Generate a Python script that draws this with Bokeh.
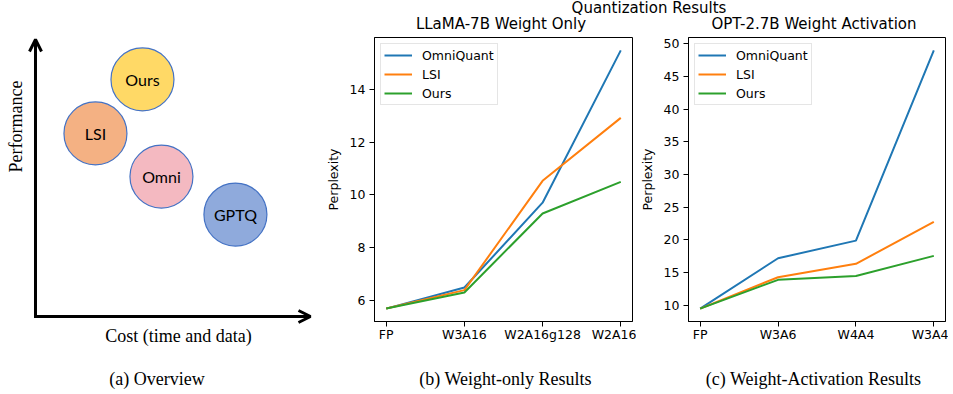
import math
from bokeh.plotting import figure
from bokeh.models import Range1d, FixedTicker, Arrow, OpenHead
from bokeh.layouts import row, column
from bokeh.core.properties import value
from bokeh.embed import file_html
from bokeh.resources import INLINE

# ---------------- data ----------------
# (a) overview diagram: cost (x) vs performance (y), abstract units 0..10
methods = ["Ours", "LSI", "Omni", "GPTQ"]
method_cost = [3.89, 2.18, 4.58, 7.27]
method_perf = [8.56, 6.61, 5.05, 3.68]
method_colors = ["#FFD966", "#F4B183", "#F4B9C1", "#8FAADC"]

# (b) LLaMA-7B weight only
b_cats = ["FP", "W3A16", "W2A16g128", "W2A16"]
b_omni = [5.68, 6.48, 9.70, 15.48]
b_lsi = [5.68, 6.38, 10.53, 12.92]
b_ours = [5.68, 6.29, 9.29, 10.49]
b_yticks = [6, 8, 10, 12, 14]

# (c) OPT-2.7B weight activation
c_cats = ["FP", "W3A6", "W4A4", "W3A4"]
c_omni = [9.5, 17.2, 19.9, 49.0]
c_lsi = [9.5, 14.3, 16.35, 22.75]
c_ours = [9.5, 13.9, 14.5, 17.57]
c_yticks = [10, 15, 20, 25, 30, 35, 40, 45, 50]

series_names = ["OmniQuant", "LSI", "Ours"]
series_colors = ["#1f77b4", "#ff7f0e", "#2ca02c"]

suptitle = "Quantization Results"
panel_titles = ["LLaMA-7B Weight Only", "OPT-2.7B Weight Activation"]
captions = ["(a) Overview", "(b) Weight-only Results", "(c) Weight-Activation Results"]

SANS = "DejaVu Sans"
SERIF = "Liberation Serif"


def blank(width, height, xr, yr):
    p = figure(width=width, height=height, x_range=xr, y_range=yr,
               x_axis_type=None, y_axis_type=None, output_backend="svg",
               toolbar_location=None, min_border=0)
    p.outline_line_color = None
    p.grid.visible = False
    p.background_fill_color = "white"
    p.border_fill_color = "white"
    return p


# ---------------- (a) overview ----------------
pa = blank(322, 360, Range1d(-1.2727, 10.4364), Range1d(-1.5884, 11.408))
pa.add_layout(Arrow(end=OpenHead(size=12, line_width=3, line_color="black"),
                    x_start=0, y_start=-0.05, x_end=0, y_end=10,
                    line_width=3, line_color="black"))
pa.add_layout(Arrow(end=OpenHead(size=12, line_width=3, line_color="black"),
                    x_start=-0.05, y_start=0, x_end=10, y_end=0,
                    line_width=3, line_color="black"))
pa.scatter(method_cost, method_perf, size=63, fill_color=method_colors,
           line_color="#4472C4", line_width=1.2)
pa.text(method_cost, method_perf, text=methods, text_align="center",
        text_baseline="middle", text_font=value("Lato"), text_font_size="16px",
        text_color="black")
pa.text([-0.727], [6.86], text=["Performance"], angle=math.pi / 2,
        text_align="center", text_baseline="middle", text_font=value(SERIF),
        text_font_size="18px", text_color="black")
pa.text([5.2], [-0.686], text=["Cost (time and data)"], text_align="center",
        text_baseline="middle", text_font=value(SERIF), text_font_size="18px",
        text_color="black")


# ---------------- line panels ----------------
def line_panel(cats, series, yticks, width, left, right):
    allv = [v for s in series for v in s]
    lo, hi = min(allv), max(allv)
    m = 0.05 * (hi - lo)
    n = len(cats)
    xs = list(range(n))
    p = figure(width=width, height=324, output_backend="svg", toolbar_location=None,
               x_range=Range1d(-0.05 * (n - 1), 1.05 * (n - 1)),
               y_range=Range1d(lo - m, hi + m),
               min_border_left=left, min_border_right=right,
               min_border_top=1, min_border_bottom=39)
    p.grid.visible = False
    p.outline_line_color = "black"
    p.outline_line_width = 1
    p.background_fill_color = "white"
    p.border_fill_color = "white"
    for name, color, vals in zip(series_names, series_colors, series):
        p.line(xs, vals, line_color=color, line_width=2, legend_label=name)
    p.xaxis.ticker = FixedTicker(ticks=xs)
    p.xaxis.major_label_overrides = {i: c for i, c in enumerate(cats)}
    p.yaxis.ticker = FixedTicker(ticks=yticks)
    p.yaxis.axis_label = "Perplexity"
    for ax in p.axis:
        ax.axis_line_color = "black"
        ax.major_tick_line_color = "black"
        ax.major_tick_in = 0
        ax.major_tick_out = 5
        ax.minor_tick_line_color = None
        ax.major_label_standoff = 4
        ax.major_label_text_font = SANS
        ax.major_label_text_font_size = "12.5px"
        ax.major_label_text_color = "black"
        ax.axis_label_text_font = SANS
        ax.axis_label_text_font_size = "12.5px"
        ax.axis_label_text_font_style = "normal"
        ax.axis_label_text_color = "black"
        ax.axis_label_standoff = 6
    p.xaxis.major_label_standoff = 0
    lg = p.legend[0]
    lg.location = "top_left"
    lg.margin = 6
    lg.padding = 3
    lg.spacing = 3
    lg.glyph_width = 28
    lg.glyph_height = 16
    lg.label_height = 16
    lg.label_standoff = 10
    lg.label_text_font = SANS
    lg.label_text_font_size = "12.5px"
    lg.label_text_color = "black"
    lg.border_line_color = "#cccccc"
    lg.border_line_width = 1
    lg.background_fill_color = "white"
    lg.background_fill_alpha = 0.8
    return p


pb = line_panel(b_cats, [b_omni, b_lsi, b_ours], b_yticks, 314, 47, 4)
pc = line_panel(c_cats, [c_omni, c_lsi, c_ours], c_yticks, 312, 46, 3)

# ---------------- titles strip ----------------
ps = blank(626, 36, Range1d(0, 626), Range1d(0, 36))
ps.text([326.5], [29], text=[suptitle], text_align="center",
        text_baseline="alphabetic", text_font=value(SANS), text_font_size="15px",
        text_color="black")
ps.text([178.5, 491.5], [12.5, 12.5], text=panel_titles, text_align="center",
        text_baseline="alphabetic", text_font=value(SANS), text_font_size="15px",
        text_color="black")

# ---------------- captions strip ----------------
pcap = blank(948, 33, Range1d(0, 948), Range1d(0, 33))
pcap.text([156.5, 505, 813], [15, 15, 15], text=captions, text_align="center",
          text_baseline="alphabetic", text_font=value(SERIF), text_font_size="18px",
          text_color="black")

layout = column(row(pa, column(ps, row(pb, pc))), pcap)

open("out.html", "w").write(file_html(layout, INLINE))
